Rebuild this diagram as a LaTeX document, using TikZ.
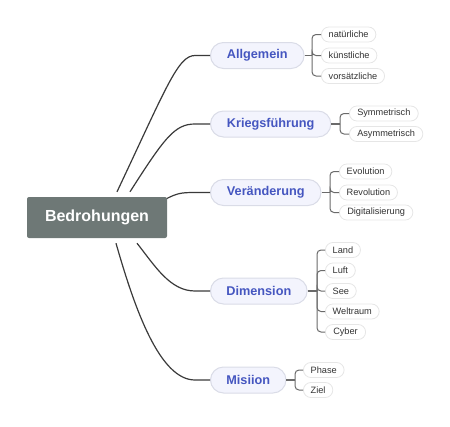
\documentclass[tikz,border=0pt]{standalone}
\usepackage{fontspec}
\setmainfont{Liberation Sans}
\usetikzlibrary{shapes.misc}
\definecolor{rootgray}{HTML}{6E7876}
\definecolor{pillfill}{HTML}{F3F4FD}
\definecolor{pillborder}{HTML}{DADCE7}
\definecolor{pillblue}{HTML}{4556C0}
\definecolor{subborder}{HTML}{E6E6E6}
\definecolor{subtext}{HTML}{333333}
\definecolor{mainline}{HTML}{3A3A3A}
\definecolor{subline}{HTML}{6A6A6A}
\tikzset{
  rootbox/.style={fill=rootgray, rounded corners=2pt, text=white,
    font=\fontsize{16}{19}\selectfont\bfseries, minimum width=140pt,
    minimum height=41pt, inner sep=0pt},
  mainpill/.style={rounded rectangle, fill=pillfill, draw=pillborder, line width=1pt,
    text=pillblue, font=\fontsize{12.7}{15}\selectfont\bfseries,
    minimum height=26pt, inner xsep=15pt, inner ysep=0pt, anchor=west},
  subpill/.style={rounded rectangle, fill=white, draw=subborder, line width=0.8pt,
    text=subtext, font=\fontsize{9.2}{10}\selectfont,
    minimum height=15pt, inner xsep=6.5pt, inner ysep=0pt, anchor=west},
  mainconn/.style={draw=mainline, line width=1.2pt},
  subconn/.style={draw=subline, line width=1pt, rounded corners=4pt},
  stemconn/.style={draw=subline, line width=1.4pt},
}
\begin{document}
\begin{tikzpicture}[x=1pt,y=-1pt]
\useasboundingbox (0,0) rectangle (450,426);
% main branches
\node[mainpill] (A) at (210,55.5) {Allgemein};
\node[mainpill] (K) at (210,124) {Kriegsführung};
\node[mainpill] (V) at (210,192.5) {Veränderung};
\node[mainpill] (D) at (210,291) {Dimension};
\node[mainpill] (M) at (210,380) {Misiion};
% root placed, connectors drawn behind it
\path (97,217.5) node[rootbox, fill=none, text=white] (R) {\phantom{Bedrohungen}};
\draw[mainconn] ([xshift=20pt,yshift=5pt]R.north) .. controls (166.5,87) and (178,55.5) .. ([xshift=-15pt]A.west) -- (A.west);
\draw[mainconn] ([xshift=33pt,yshift=5pt]R.north) .. controls (165,137) and (175,124) .. ([xshift=-15pt]K.west) -- (K.west);
\draw[mainconn] ([xshift=-8pt,yshift=-6pt]R.north east) .. controls (176,193) and (180,192.5) .. ([xshift=-15pt]V.west) -- (V.west);
\draw[mainconn] ([xshift=40pt,yshift=-5pt]R.south) .. controls (155,266) and (170,291) .. ([xshift=-15pt]D.west) -- (D.west);
\draw[mainconn] ([xshift=19pt,yshift=-5pt]R.south) .. controls (135,310) and (160,380) .. ([xshift=-15pt]M.west) -- (M.west);
\node[rootbox] (Rb) at (R.center) {Bedrohungen};
% sub nodes
\node[subpill] (a1) at (321,34.5) {natürliche};
\node[subpill] (a2) at (321,55.5) {künstliche};
\node[subpill] (a3) at (321,76) {vorsätzliche};
\node[subpill] (k1) at (349,113.5) {Symmetrisch};
\node[subpill] (k2) at (349,134) {Asymmetrisch};
\node[subpill] (v1) at (339,171.5) {Evolution};
\node[subpill] (v2) at (339,192.5) {Revolution};
\node[subpill] (v3) at (339,212.5) {Digitalisierung};
\node[subpill] (d1) at (325,250) {Land};
\node[subpill] (d2) at (325,270.5) {Luft};
\node[subpill] (d3) at (325,291) {See};
\node[subpill] (d4) at (325,311.5) {Weltraum};
\node[subpill] (d5) at (325,332) {Cyber};
\node[subpill] (m1) at (303,370) {Phase};
\node[subpill] (m2) at (303,390) {Ziel};
% spines
\coordinate (sA) at (312,55.5);
\coordinate (sK) at (340,124);
\coordinate (sV) at (330,192.5);
\coordinate (sD) at (317,291);
\coordinate (sM) at (295,380);
\draw[stemconn] (A.east) -- (sA);
\draw[stemconn] (K.east) -- (sK);
\draw[stemconn] (V.east) -- (sV);
\draw[stemconn] (D.east) -- (sD);
\draw[stemconn] (M.east) -- (sM);
\foreach \c in {a1,a2,a3} \draw[subconn] (sA) |- (\c.west);
\foreach \c in {k1,k2} \draw[subconn] (sK) |- (\c.west);
\foreach \c in {v1,v2,v3} \draw[subconn] (sV) |- (\c.west);
\foreach \c in {d1,d2,d3,d4,d5} \draw[subconn] (sD) |- (\c.west);
\foreach \c in {m1,m2} \draw[subconn] (sM) |- (\c.west);
\end{tikzpicture}
\end{document}
